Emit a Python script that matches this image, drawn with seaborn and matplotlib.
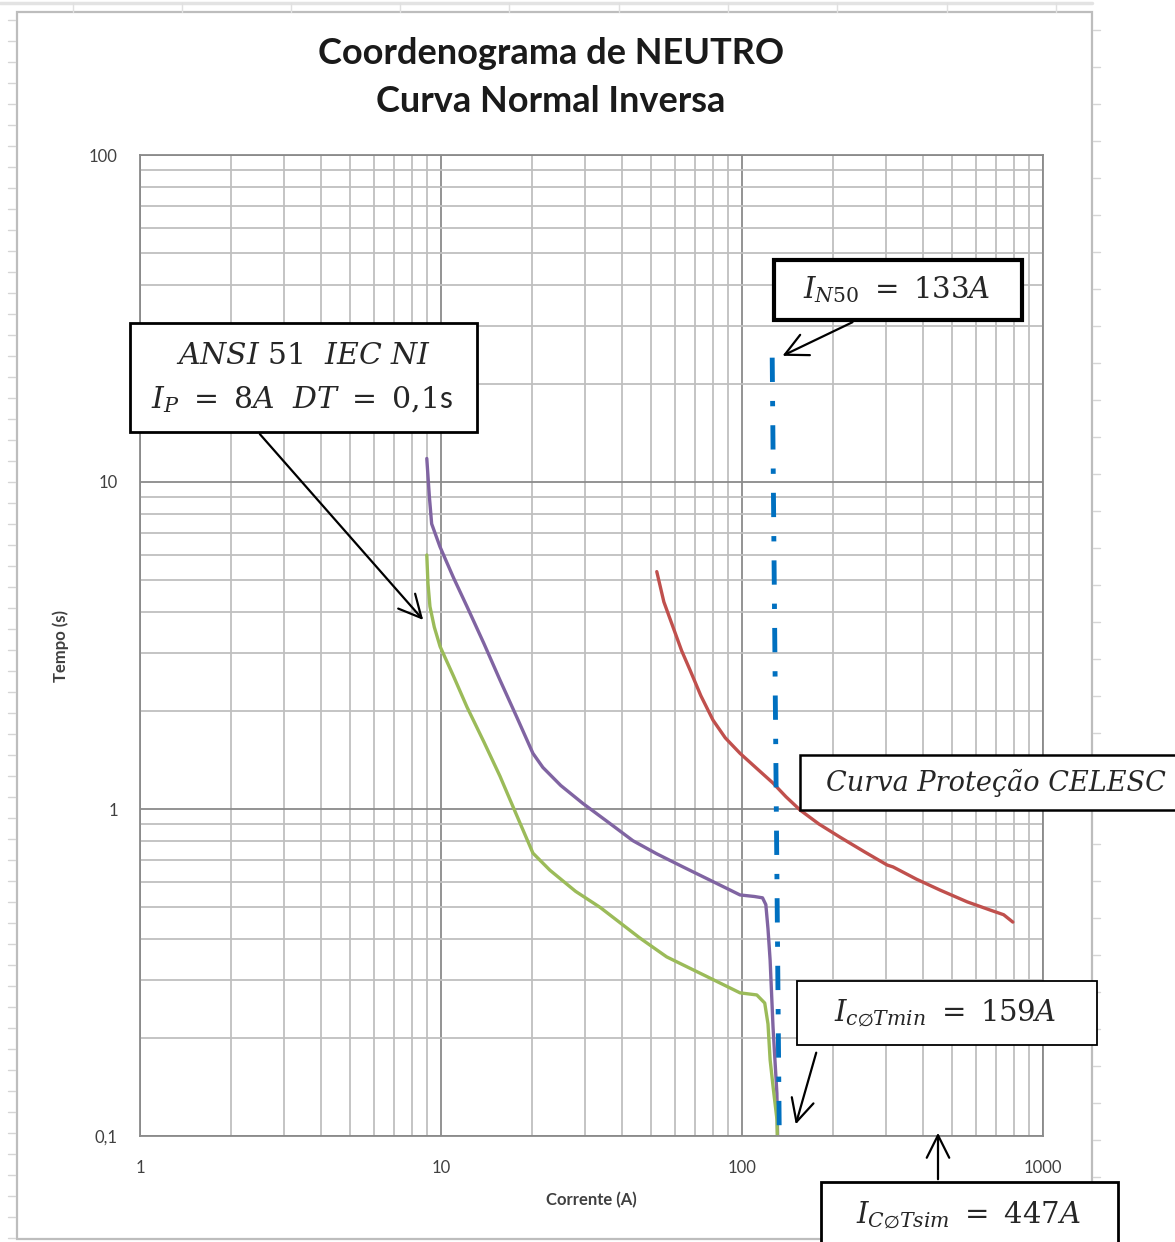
import matplotlib
matplotlib.use("Agg")
import matplotlib.pyplot as plt
from matplotlib.patches import Rectangle, FancyArrowPatch
from matplotlib.lines import Line2D
import seaborn as sns
import pandas as pd

# ---------------------------------------------------------------
# dados lidos do coordenograma (corrente em A, tempo em s)
# ---------------------------------------------------------------
corrente_roxo = [8.97, 9.15, 9.31, 9.92, 11.0, 12.2, 13.9, 15.7, 17.9, 20.2,
                 21.8, 25.0, 29.6, 36.0, 43.4, 52.0, 63.7, 80.0, 98.5, 110,
                 117, 120, 122, 124, 126.8, 130.6, 131.3]
tempo_roxo = [11.8, 9.0, 7.45, 6.34, 5.1, 4.16, 3.2, 2.48, 1.9, 1.48,
              1.34, 1.18, 1.04, 0.91, 0.80, 0.73, 0.665, 0.60, 0.546, 0.54,
              0.535, 0.51, 0.43, 0.345, 0.215, 0.135, 0.1]

corrente_verde = [8.97, 9.05, 9.19, 9.5, 9.93, 11.0, 12.2, 13.9, 15.7, 17.9,
                  20.2, 23.0, 28.0, 33.8, 45.8, 56.2, 75.0, 98.5, 112, 119,
                  122, 124, 127, 130.7, 131]
tempo_verde = [5.98, 4.9, 4.16, 3.6, 3.14, 2.55, 2.05, 1.6, 1.26, 0.95,
               0.733, 0.65, 0.56, 0.50, 0.403, 0.353, 0.31, 0.274, 0.27, 0.255,
               0.22, 0.171, 0.14, 0.112, 0.1]

corrente_celesc = [52.1, 55.0, 59.0, 63.0, 67.2, 73.0, 80.1, 88.0, 98.5, 112,
                   126.8, 140, 155.9, 180, 211.7, 255, 303.6, 317.6, 380,
                   455, 560, 667, 740, 794]
tempo_celesc = [5.32, 4.3, 3.60, 3.05, 2.66, 2.22, 1.87, 1.65, 1.48, 1.33,
                1.20, 1.09, 0.993, 0.90, 0.82, 0.74, 0.674, 0.665, 0.61,
                0.565, 0.52, 0.491, 0.475, 0.451]

corrente_in50 = [126, 133]
tempo_in50 = [24, 0.1]

yticks = [0.1, 1, 10, 100]
ytick_labels = ["0,1", "1", "10", "100"]
xticks = [1, 10, 100, 1000]
xtick_labels = ["1", "10", "100", "1000"]

sns.set_style("white")
plt.rcParams['font.family'] = ['Lato', 'DejaVu Sans']
plt.rcParams['mathtext.fontset'] = 'dejavuserif'

W, H = 1175, 1242
fig = plt.figure(figsize=(W / 100, H / 100), dpi=100)


def fx(x):
    return x / W


def fy(y):
    return 1 - y / H


# moldura do gráfico do Excel + restos da planilha
fig.add_artist(Rectangle((fx(17), fy(1239)), fx(1092) - fx(17), fy(12) - fy(1239),
                         transform=fig.transFigure, fill=False, ec='#BDBDBD', lw=1.6, zorder=0))
fig.add_artist(Line2D([0, fx(1092)], [fy(3), fy(3)], transform=fig.transFigure,
                      color='#E3E3E3', lw=2.5, zorder=0))
for xc in [73, 182, 291, 400, 509, 619, 728, 837, 947, 1056]:
    fig.add_artist(Line2D([fx(xc), fx(xc)], [fy(3), fy(12)], transform=fig.transFigure,
                          color='#E0E0E0', lw=1, zorder=0))
for yc in range(20, 1240, 21):
    fig.add_artist(Line2D([fx(8), fx(15)], [fy(yc), fy(yc)], transform=fig.transFigure,
                          color='#D5D5D5', lw=1, zorder=0))
for yc in range(30, 1240, 37):
    fig.add_artist(Line2D([fx(1093), fx(1100)], [fy(yc), fy(yc)], transform=fig.transFigure,
                          color='#D5D5D5', lw=1, zorder=0))

ax = fig.add_axes([fx(140), fy(1136), fx(1043) - fx(140), fy(155) - fy(1136)])
ax.set_xscale('log')
ax.set_yscale('log')

df_roxo = pd.DataFrame({'I': corrente_roxo, 't': tempo_roxo})
df_verde = pd.DataFrame({'I': corrente_verde, 't': tempo_verde})
df_celesc = pd.DataFrame({'I': corrente_celesc, 't': tempo_celesc})

estilo = dict(sort=False, estimator=None, lw=2.4, ax=ax, solid_joinstyle='round', solid_capstyle='round')
sns.lineplot(data=df_roxo, x='I', y='t', color='#8064A2', **estilo)
sns.lineplot(data=df_verde, x='I', y='t', color='#9BBB59', **estilo)
sns.lineplot(data=df_celesc, x='I', y='t', color='#C0504D', **estilo)
ax.plot(corrente_in50, tempo_in50, color='#0070C0', lw=3.5, dashes=(5.0, 3.9, 1.1, 3.9),
        dash_capstyle='butt', zorder=4)

ax.set_xlim(1, 1000)
ax.set_ylim(0.1, 100)
ax.set_xticks(xticks)
ax.set_xticklabels(xtick_labels)
ax.set_yticks(yticks)
ax.set_yticklabels(ytick_labels)
ax.tick_params(which='both', length=0, labelsize=12, colors='#404040')
ax.tick_params(axis='x', pad=17)
ax.tick_params(axis='y', pad=16)
ax.grid(which='minor', color='#BFBFBF', lw=1.3, zorder=0)
ax.grid(which='major', color='#8A8A8A', lw=1.3, zorder=0)
ax.set_axisbelow(True)
for s in ax.spines.values():
    s.set_color('#8A8A8A')
    s.set_linewidth(1.3)
ax.set_xlabel('Corrente (A)', fontsize=12, fontweight='bold', color='#404040', labelpad=12)
ax.set_ylabel('Tempo (s)', fontsize=12, fontweight='bold', color='#404040', labelpad=14)

fig.text(fx(551), fy(53), 'Coordenograma de NEUTRO', ha='center', va='center',
         fontsize=26, fontweight='bold', color='#1A1A1A')
fig.text(fx(551), fy(101), 'Curva Normal Inversa', ha='center', va='center',
         fontsize=26, fontweight='bold', color='#1A1A1A')


def caixa(x0, y0, x1, y1, lw):
    fig.add_artist(Rectangle((fx(x0), fy(y1)), fx(x1) - fx(x0), fy(y0) - fy(y1),
                             transform=fig.transFigure, fc='white', ec='black', lw=lw, zorder=5))


def seta(xa, ya, xb, yb):
    fig.add_artist(FancyArrowPatch((fx(xa), fy(ya)), (fx(xb), fy(yb)), transform=fig.transFigure,
                                   arrowstyle='->,head_length=0.9,head_width=0.45',
                                   mutation_scale=18, color='black', lw=1.6, zorder=6))


caixa(130, 323, 477, 432, 2.0)
fig.text(fx(303), fy(355), r'$ANSI\ 51\ \ IEC\ NI$', ha='center', va='center', fontsize=21.5, zorder=7)
fig.text(fx(302), fy(400), r'$I_P\ =\ 8A\ \ DT\ =\ 0{,}1$s', ha='center', va='center', fontsize=21.5, zorder=7)
seta(258, 432, 425, 622)

caixa(774, 260, 1022, 320, 3.0)
fig.text(fx(897), fy(290), r'$I_{N50}\ =\ 133A$', ha='center', va='center', fontsize=21, zorder=7)
seta(855, 321, 780, 357)

caixa(800, 755, 1185, 810, 1.8)
fig.text(fx(826), fy(783), 'Curva Proteção CELESC', ha='left', va='center', fontsize=19.5,
         family='DejaVu Serif', style='italic', zorder=7)

caixa(797, 981, 1097, 1045, 1.3)
fig.text(fx(945), fy(1013), r'$I_{c\emptyset Tmin}\ =\ 159A$', ha='center', va='center', fontsize=21, zorder=7)
seta(817, 1050, 795, 1127)

caixa(821, 1182, 1118, 1260, 2.0)
fig.text(fx(968), fy(1215), r'$I_{C\emptyset Tsim}\ =\ 447A$', ha='center', va='center', fontsize=21, zorder=7)
seta(938, 1182, 938, 1130)

fig.savefig('out.png', dpi=100)
